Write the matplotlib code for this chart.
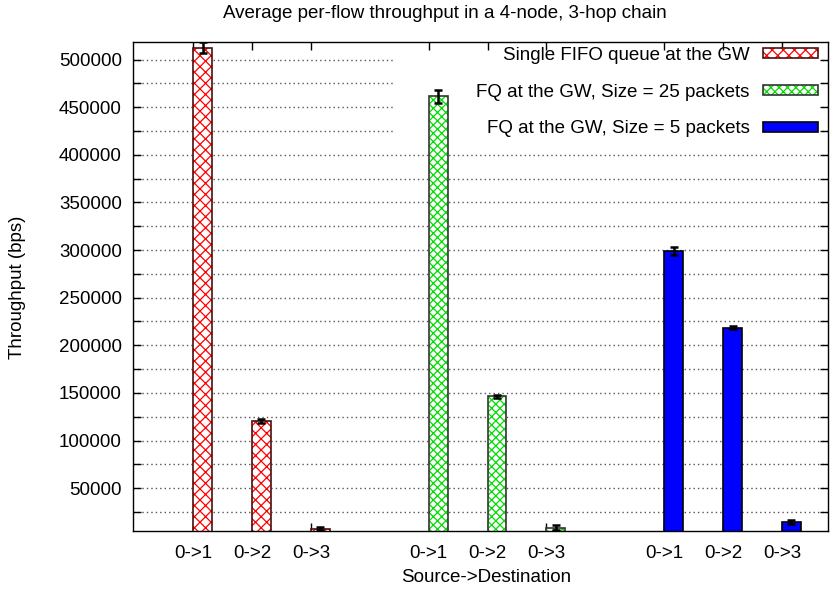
import matplotlib
matplotlib.use("Agg")
import matplotlib.pyplot as plt
import numpy as np
from matplotlib.patches import Rectangle, Patch
from matplotlib.legend_handler import HandlerTuple

# data
flows = ["0->1", "0->2", "0->3"]
series_names = ["Single FIFO queue at the GW",
                "FQ at the GW, Size = 25 packets",
                "FQ at the GW, Size = 5 packets"]
fifo = [512500, 120500, 7500]
fifo_err = [5500, 2000, 1500]
fq25 = [461500, 146500, 8500]
fq25_err = [7000, 1500, 2500]
fq5 = [299000, 218500, 14500]
fq5_err = [4000, 1500, 2000]

plt.rcParams["font.family"] = ["Liberation Sans", "DejaVu Sans"]
plt.rcParams["font.size"] = 13.5
plt.rcParams["hatch.linewidth"] = 0.9

W, H = 832, 590
fig = plt.figure(figsize=(W / 100, H / 100), dpi=100)
ax = fig.add_axes([133 / W, 1 - 531 / H, (828 - 133) / W, (531 - 42) / H])

width = 0.32
styles = [
    dict(face="white", hatch="xxx", hcol="red", edge="#4a1010"),
    dict(face="white", hatch="xxxx", hcol="#00dd00", edge="#333333"),
    dict(face="#0000ff", hatch=None, hcol="#0000ff", edge="black"),
]
all_vals = [fifo, fq25, fq5]
all_errs = [fifo_err, fq25_err, fq5_err]

ticks = []
handles = []
for g, (vals, errs, st) in enumerate(zip(all_vals, all_errs, styles)):
    x = np.arange(len(vals)) + 4 * g
    ticks.extend(x)
    # fill + hatch
    ax.bar(x, vals, width=width, align="edge", color=st["face"],
           hatch=st["hatch"], edgecolor=st["hcol"], linewidth=0, zorder=2)
    # outline
    ax.bar(x, vals, width=width, align="edge", fill=False,
           edgecolor=st["edge"], linewidth=1.2, zorder=3)
    ax.errorbar(x + width / 2, vals, yerr=errs, fmt="none", ecolor="black",
                elinewidth=1.8, capsize=3, capthick=1.8, zorder=4)
    h1 = Patch(facecolor=st["face"], hatch=st["hatch"], edgecolor=st["hcol"],
               linewidth=0)
    h2 = Patch(fill=False, edgecolor=st["edge"], linewidth=1.2)
    handles.append((h1, h2))

ax.set_xlim(-1.02, 10.78)
ax.set_ylim(5000, 518500)
ax.set_xticks(ticks)
ax.set_xticklabels(flows * 3)
ax.set_yticks(np.arange(50000, 500001, 50000))
ax.set_yticks(np.arange(25000, 500001, 50000), minor=True)
ax.tick_params(axis="both", which="both", direction="in", top=True,
               right=True, length=6, width=1, pad=8)
ax.tick_params(axis="x", pad=10)

# dotted grid, behind everything
for yv in np.arange(25000, 500001, 25000):
    ax.axhline(yv, color="#555555", linestyle=(0, (1, 2.2)), linewidth=1,
               zorder=0)

# opaque key area hiding the grid
ax.add_patch(Rectangle((393 / W, 1 - 150 / H), (822 - 393) / W, (150 - 42) / H,
                       transform=fig.transFigure, facecolor="white",
                       edgecolor="none", zorder=1))

for s in ax.spines.values():
    s.set_linewidth(1)

ax.legend(handles, series_names, handler_map={tuple: HandlerTuple(ndivide=1)},
          loc="upper right", bbox_to_anchor=(818 / W, 1 - 47 / H),
          bbox_transform=fig.transFigure, frameon=False, markerfirst=False,
          handlelength=2.95, handleheight=0.45, handletextpad=0.7,
          labelspacing=1.05, borderpad=0, borderaxespad=0)

fig.text(445 / W, 1 - 13 / H, "Average per-flow throughput in a 4-node, 3-hop chain",
         ha="center", va="center")
fig.text(18 / W, 1 - 287 / H, "Throughput (bps)", rotation=90,
         ha="center", va="center")
fig.text(486 / W, 1 - 578 / H, "Source->Destination", ha="center", va="center")

fig.savefig("out.png", dpi=100)
